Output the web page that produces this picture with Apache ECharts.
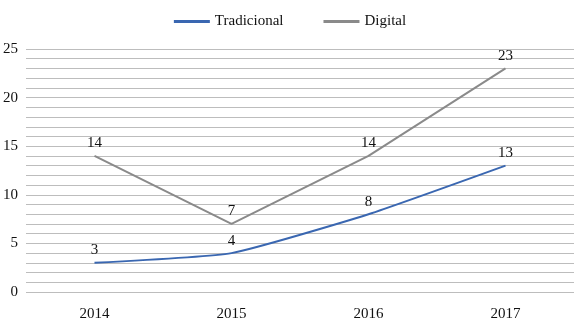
<!DOCTYPE html>
<html>
<head>
<meta charset="utf-8">
<script src="https://cdn.jsdelivr.net/npm/echarts@6/dist/echarts.min.js"></script>
<style>
  html, body { margin: 0; padding: 0; background: #fff; }
  #chart { width: 580px; height: 332px; }
</style>
</head>
<body>
<div id="chart"></div>
<script>
const years = ['2014', '2015', '2016', '2017']
const tradicional = [3, 4, 8, 13]
const digital = [14, 7, 14, 23]

const font = 'Liberation Serif, DejaVu Serif, serif'
const chart = echarts.init(document.getElementById('chart'))

const labelStyle = { show: true, position: 'top', distance: 5, fontFamily: font, fontSize: 15, color: '#111' }

chart.setOption({
  backgroundColor: '#ffffff',
  textStyle: { fontFamily: font },
  legend: {
    top: 9,
    left: 'center',
    itemWidth: 36,
    itemHeight: 3,
    itemGap: 40,
    icon: 'rect',
    textStyle: { fontFamily: font, fontSize: 15, color: '#111' },
    data: ['Tradicional', 'Digital']
  },
  grid: { left: 26, right: 6, top: 49, bottom: 40 },
  xAxis: {
    type: 'category',
    data: years,
    boundaryGap: true,
    axisLine: { show: false },
    axisTick: { show: false },
    axisLabel: { fontFamily: font, fontSize: 15, color: '#111', margin: 15 }
  },
  yAxis: {
    type: 'value',
    min: 0,
    max: 25,
    interval: 1,
    axisLine: { show: false },
    axisTick: { show: false },
    axisLabel: {
      fontFamily: font, fontSize: 15, color: '#111', margin: 8,
      formatter: v => (v % 5 === 0 ? String(v) : '')
    },
    splitLine: { lineStyle: { color: '#bdbdbd', width: 1 } }
  },
  series: [
    {
      name: 'Tradicional',
      type: 'line',
      data: tradicional,
      smooth: 0.15,
      symbol: 'circle',
      symbolSize: 0.1,
      lineStyle: { color: '#3a67b1', width: 2 },
      itemStyle: { color: '#3a67b1' },
      label: labelStyle
    },
    {
      name: 'Digital',
      type: 'line',
      data: digital,
      symbol: 'circle',
      symbolSize: 0.1,
      lineStyle: { color: '#8a8a8a', width: 2 },
      itemStyle: { color: '#8a8a8a' },
      label: labelStyle
    }
  ]
})
</script>
</body>
</html>
